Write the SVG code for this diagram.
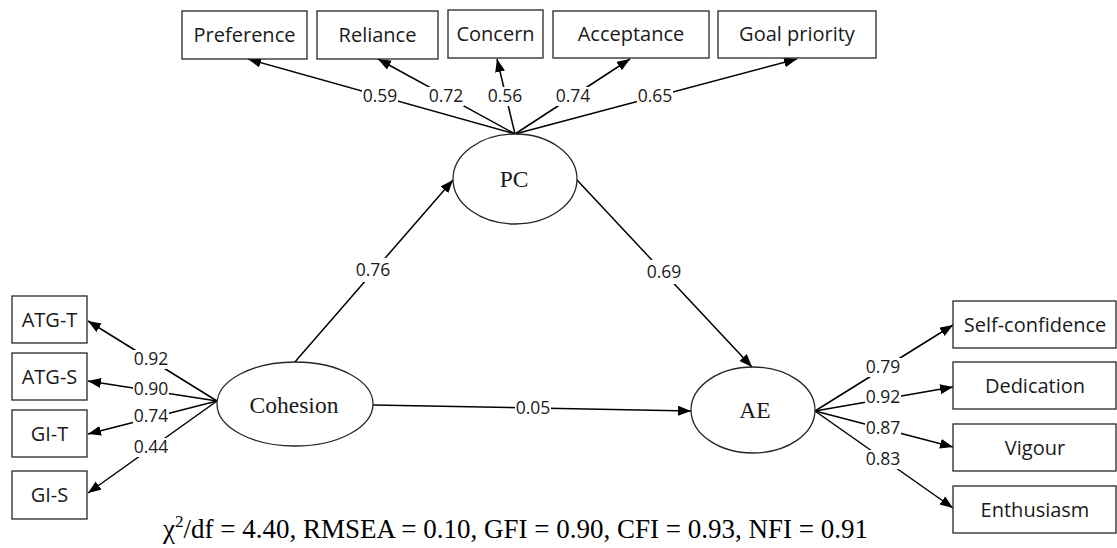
<svg xmlns="http://www.w3.org/2000/svg" width="1117" height="548" viewBox="0 0 1117 548">
  <style>
    .box { fill: #fff; stroke: #262626; stroke-width: 1.3; }
    .ell { fill: #fff; stroke: #262626; stroke-width: 1.3; }
    .btxt { font-family: "Open Sans", "Noto Sans", sans-serif; font-size: 20px; fill: #1a1a1a; text-anchor: middle; }
    .etxt { font-family: "Liberation Serif", "Times New Roman", serif; font-size: 23.5px; fill: #1a1a1a; text-anchor: middle; }
    .lbl { font-family: "Open Sans", "Noto Sans", sans-serif; font-size: 17.5px; fill: #1a1a1a; text-anchor: middle; }
    .lbg { fill: #fff; }
    .edge { stroke: #000; stroke-width: 1.5; fill: none; marker-end: url(#arr); }
    .fit { font-family: "Liberation Serif", "Times New Roman", serif; font-size: 27px; fill: #000; }
  </style>
  <defs>
    <marker id="arr" markerUnits="userSpaceOnUse" markerWidth="15" markerHeight="11" refX="13" refY="5" orient="auto">
      <path d="M0,0 L13,5 L0,10 z" fill="#000"/>
    </marker>
  </defs>

  <g id="connectors">
    <line class="edge" x1="515" y1="134" x2="248" y2="59"/>
    <line class="edge" x1="515" y1="134" x2="378" y2="59"/>
    <line class="edge" x1="515" y1="134" x2="497" y2="59"/>
    <line class="edge" x1="515" y1="134" x2="630" y2="59"/>
    <line class="edge" x1="515" y1="134" x2="797" y2="59"/>

    <line class="edge" x1="217" y1="401" x2="88" y2="321"/>
    <line class="edge" x1="217" y1="401" x2="88" y2="381"/>
    <line class="edge" x1="217" y1="401" x2="88" y2="434"/>
    <line class="edge" x1="217" y1="401" x2="88" y2="493"/>

    <line class="edge" x1="815" y1="411" x2="953" y2="325"/>
    <line class="edge" x1="815" y1="411" x2="953" y2="387"/>
    <line class="edge" x1="815" y1="411" x2="953" y2="447"/>
    <line class="edge" x1="815" y1="411" x2="953" y2="508"/>

    <line class="edge" x1="294" y1="363" x2="453" y2="180"/>
    <line class="edge" x1="577" y1="180" x2="752" y2="367"/>
    <line class="edge" x1="373" y1="405" x2="691" y2="411"/>

    <g id="labels">
      <rect class="lbg" x="362" y="87" width="36" height="19"/><text class="lbl" x="380" y="102">0.59</text>
      <rect class="lbg" x="428" y="87" width="36" height="19"/><text class="lbl" x="446" y="102">0.72</text>
      <rect class="lbg" x="487" y="87" width="36" height="19"/><text class="lbl" x="505" y="102">0.56</text>
      <rect class="lbg" x="555" y="87" width="36" height="19"/><text class="lbl" x="573" y="102">0.74</text>
      <rect class="lbg" x="637" y="87" width="36" height="19"/><text class="lbl" x="655" y="102">0.65</text>

      <rect class="lbg" x="133" y="350" width="36" height="19"/><text class="lbl" x="151" y="365">0.92</text>
      <rect class="lbg" x="133" y="381" width="36" height="17"/><text class="lbl" x="151" y="395">0.90</text>
      <rect class="lbg" x="133" y="408" width="36" height="17"/><text class="lbl" x="151" y="422">0.74</text>
      <rect class="lbg" x="133" y="438" width="36" height="19"/><text class="lbl" x="151" y="453">0.44</text>

      <rect class="lbg" x="865" y="358" width="36" height="19"/><text class="lbl" x="883" y="373">0.79</text>
      <rect class="lbg" x="865" y="389" width="36" height="17"/><text class="lbl" x="883" y="403">0.92</text>
      <rect class="lbg" x="865" y="420" width="36" height="17"/><text class="lbl" x="883" y="434">0.87</text>
      <rect class="lbg" x="865" y="450" width="36" height="19"/><text class="lbl" x="883" y="465">0.83</text>

      <rect class="lbg" x="353" y="258" width="40" height="24"/><text class="lbl" x="373" y="276">0.76</text>
      <rect class="lbg" x="644" y="260" width="40" height="24"/><text class="lbl" x="664" y="278">0.69</text>
      <rect class="lbg" x="515" y="400" width="36" height="17"/><text class="lbl" x="533" y="414">0.05</text>
    </g>
  </g>

  <g id="preference"><rect class="box" x="182" y="11" width="125" height="48"/><text class="btxt" x="244.5" y="42">Preference</text></g>
  <g id="reliance"><rect class="box" x="317" y="11" width="121" height="48"/><text class="btxt" x="377.5" y="42">Reliance</text></g>
  <g id="concern"><rect class="box" x="448" y="10" width="95" height="48"/><text class="btxt" x="495.5" y="41">Concern</text></g>
  <g id="acceptance"><rect class="box" x="553" y="11" width="156" height="47"/><text class="btxt" x="631" y="41">Acceptance</text></g>
  <g id="goal-priority"><rect class="box" x="718" y="11" width="158" height="47"/><text class="btxt" x="797" y="41">Goal priority</text></g>

  <g id="atg-t"><rect class="box" x="12" y="296" width="75" height="47"/><text class="btxt" x="49.5" y="327">ATG-T</text></g>
  <g id="atg-s"><rect class="box" x="12" y="353" width="75" height="47"/><text class="btxt" x="49.5" y="384">ATG-S</text></g>
  <g id="gi-t"><rect class="box" x="12" y="410" width="75" height="47"/><text class="btxt" x="49.5" y="441">GI-T</text></g>
  <g id="gi-s"><rect class="box" x="12" y="471" width="75" height="48"/><text class="btxt" x="49.5" y="502">GI-S</text></g>

  <g id="self-confidence"><rect class="box" x="953" y="301" width="163" height="47"/><text class="btxt" x="1035" y="332">Self-confidence</text></g>
  <g id="dedication"><rect class="box" x="953" y="362" width="163" height="47"/><text class="btxt" x="1035" y="393">Dedication</text></g>
  <g id="vigour"><rect class="box" x="953" y="424" width="163" height="47"/><text class="btxt" x="1035" y="455">Vigour</text></g>
  <g id="enthusiasm"><rect class="box" x="953" y="486" width="163" height="47"/><text class="btxt" x="1035" y="517">Enthusiasm</text></g>

  <g id="pc"><ellipse class="ell" cx="515" cy="179" rx="62" ry="45"/><text class="etxt" x="514" y="187">PC</text></g>
  <g id="cohesion"><ellipse class="ell" cx="295" cy="404" rx="78" ry="42"/><text class="etxt" x="294" y="413">Cohesion</text></g>
  <g id="ae"><ellipse class="ell" cx="753" cy="410" rx="62" ry="43"/><text class="etxt" x="755" y="418">AE</text></g>

  <text class="fit" x="163" y="538">χ<tspan font-size="17" dy="-11">2</tspan><tspan dy="11">/df = 4.40, RMSEA = 0.10, GFI = 0.90, CFI = 0.93, NFI = 0.91</tspan></text>
</svg>
